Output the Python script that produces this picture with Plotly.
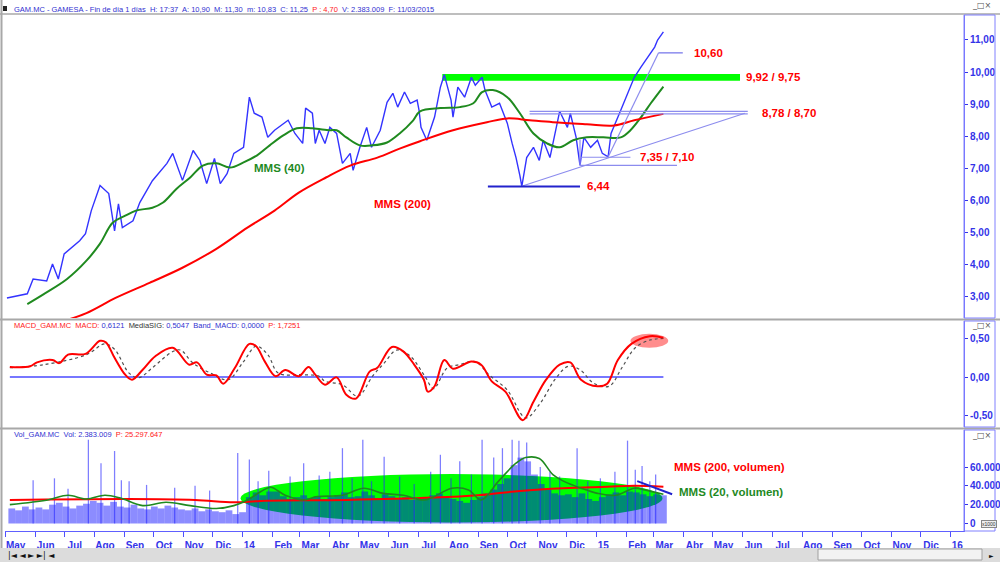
import pandas as pd
import plotly.graph_objects as go

# ---------------- PRICE PANEL DATA ----------------
price_dates = [
    '2013-05-03', '2013-05-24', '2013-05-30', '2013-06-13', '2013-06-19', '2013-06-25', '2013-07-01',
    '2013-07-17', '2013-07-23', '2013-07-29', '2013-08-07', '2013-08-16', '2013-08-22', '2013-08-26',
    '2013-08-30', '2013-09-10', '2013-09-17', '2013-09-30', '2013-10-15', '2013-10-21', '2013-10-31',
    '2013-11-11', '2013-11-18', '2013-11-25', '2013-12-03', '2013-12-09', '2013-12-16', '2013-12-23',
    '2014-01-02', '2014-01-08', '2014-01-13', '2014-01-21', '2014-01-27', '2014-02-03', '2014-02-17',
    '2014-02-24', '2014-03-04', '2014-03-07', '2014-03-14', '2014-03-17', '2014-03-21', '2014-03-27',
    '2014-04-01', '2014-04-08', '2014-04-14', '2014-04-22', '2014-04-25', '2014-05-02', '2014-05-09',
    '2014-05-14', '2014-05-23', '2014-05-30', '2014-06-05', '2014-06-10', '2014-06-17', '2014-06-23',
    '2014-06-30', '2014-07-02', '2014-07-04', '2014-07-10', '2014-07-18', '2014-07-24', '2014-07-28',
    '2014-08-04', '2014-08-06', '2014-08-11', '2014-08-18', '2014-08-25', '2014-08-29', '2014-09-05',
    '2014-09-08', '2014-09-15', '2014-09-23', '2014-10-01', '2014-10-06', '2014-10-10', '2014-10-14',
    '2014-10-16', '2014-10-21', '2014-10-28', '2014-11-03', '2014-11-07', '2014-11-14', '2014-11-21',
    '2014-11-24', '2014-12-02', '2014-12-05', '2014-12-11', '2014-12-15', '2014-12-19', '2014-12-26',
    '2015-01-02', '2015-01-07', '2015-01-13', '2015-01-16', '2015-01-26', '2015-02-02', '2015-02-09',
    '2015-02-16', '2015-02-23', '2015-03-02', '2015-03-05', '2015-03-11']
price_close = [
    2.97, 3.10, 3.56, 3.50, 4.03, 3.56, 4.34, 4.75, 4.97, 5.69, 6.47, 6.22, 5.06, 5.90,
    5.16, 5.37, 5.94, 6.62, 7.16, 7.47, 6.63, 7.56, 7.25, 6.53, 7.31, 6.53, 6.84, 7.47,
    7.66, 9.22, 8.72, 8.60, 7.97, 8.19, 8.50, 8.09, 7.78, 8.88, 8.72, 7.78, 8.19, 7.78,
    8.28, 8.09, 7.16, 7.47, 6.94, 7.66, 8.28, 7.66, 8.19, 9.06, 9.34, 8.91, 9.38, 9.03,
    9.13, 8.81, 8.28, 7.88, 8.60, 9.53, 9.92, 9.13, 8.60, 9.53, 9.22, 9.84, 9.59, 9.84,
    9.44, 8.91, 9.03, 8.41, 7.78, 7.34, 6.78, 6.44, 7.34, 7.66, 7.25, 7.88, 7.34, 8.28,
    8.78, 8.28, 8.72, 7.97, 7.10, 7.97, 7.66,
    7.88, 7.47, 7.36, 8.09, 8.81, 9.34, 9.84, 10.16, 10.47, 10.78, 11.00, 11.25]

mms40_dates = [
    '2013-05-24', '2013-06-10', '2013-07-04', '2013-07-24', '2013-08-07', '2013-08-20', '2013-09-02',
    '2013-09-13', '2013-09-30', '2013-10-11', '2013-10-25', '2013-11-08', '2013-11-21', '2013-12-05',
    '2013-12-19', '2014-01-02', '2014-01-16', '2014-01-29', '2014-02-12', '2014-02-26', '2014-03-14',
    '2014-04-01', '2014-04-08', '2014-04-18', '2014-05-02', '2014-05-15', '2014-05-30', '2014-06-12',
    '2014-06-26', '2014-07-03', '2014-07-24', '2014-08-13', '2014-08-27', '2014-09-05', '2014-09-16',
    '2014-10-01', '2014-10-14', '2014-10-28', '2014-11-11', '2014-11-24', '2014-12-08', '2014-12-22',
    '2015-01-08', '2015-01-26', '2015-02-05', '2015-02-16', '2015-02-26', '2015-03-11']
mms40 = [
    2.78, 3.09, 3.56, 4.13, 4.66, 5.31, 5.53, 5.69, 5.78, 5.94, 6.37, 6.72, 7.09, 7.16, 7.03,
    7.19, 7.41, 7.72, 8.03, 8.25, 8.25, 8.19, 8.19, 7.97, 7.72, 7.72, 7.81, 8.09, 8.50, 8.78,
    8.88, 8.91, 9.03, 9.38, 9.44, 9.22, 8.72, 8.09, 7.78, 7.66, 7.88, 7.97,
    7.97, 7.97, 8.19, 8.60, 9.03, 9.55]

mms200_dates = [
    '2013-06-27', '2013-07-24', '2013-08-23', '2013-09-27', '2013-10-31', '2013-12-05', '2014-01-06',
    '2014-02-03', '2014-02-28', '2014-03-28', '2014-04-22', '2014-05-20', '2014-06-12', '2014-07-03',
    '2014-08-06', '2014-09-10', '2014-10-01', '2014-10-24', '2014-11-17', '2014-12-22', '2015-01-19',
    '2015-02-09', '2015-03-11']
mms200 = [2.22, 2.50, 2.97, 3.44, 3.91, 4.50, 5.16, 5.69, 6.25, 6.72, 7.09, 7.34, 7.62, 7.85,
          8.19, 8.44, 8.56, 8.50, 8.44, 8.38, 8.34, 8.50, 8.70]

# key levels written on the chart
level_1060 = 10.60
band_top, band_bottom = 9.92, 9.75
res_top, res_bottom = 8.78, 8.70
sup_top, sup_bottom = 7.35, 7.10
low_644 = 6.44

# ---------------- MACD PANEL DATA ----------------
macd_dates = [
    '2013-05-06', '2013-05-27', '2013-06-03', '2013-06-19', '2013-06-26', '2013-07-05', '2013-07-23',
    '2013-08-07', '2013-08-13', '2013-08-22', '2013-09-02', '2013-09-09', '2013-09-20', '2013-10-03',
    '2013-10-21', '2013-11-07', '2013-11-15', '2013-11-25', '2013-12-05', '2013-12-12', '2013-12-24',
    '2014-01-08', '2014-01-15', '2014-01-24', '2014-02-04', '2014-02-14', '2014-02-28', '2014-03-10',
    '2014-03-17', '2014-03-27', '2014-04-08', '2014-04-18', '2014-04-28', '2014-05-12', '2014-05-20',
    '2014-06-04', '2014-06-16', '2014-06-27', '2014-07-07', '2014-07-11', '2014-07-18', '2014-07-28',
    '2014-08-06', '2014-08-25', '2014-09-04', '2014-09-15', '2014-09-29', '2014-10-17', '2014-10-28',
    '2014-11-10', '2014-11-24', '2014-12-05', '2014-12-16', '2015-01-02', '2015-01-12', '2015-01-23',
    '2015-02-06', '2015-02-25', '2015-03-11']
macd_vals = [
    0.13, 0.14, 0.19, 0.22, 0.18, 0.29, 0.30, 0.47, 0.45, 0.25,
    0.03, -0.035, 0.095, 0.27, 0.38, 0.16, 0.19, 0.03, 0.02, -0.087, 0.117,
    0.43, 0.40, 0.20, 0.01, 0.09, 0.01, 0.13, 0.03, -0.10, -0.005,
    -0.23, -0.28, 0.07, 0.12, 0.39, 0.33, 0.16, -0.035, -0.19, -0.12,
    0.22, 0.108, 0.20, 0.16, -0.056, -0.19, -0.56, -0.32, -0.035, 0.16,
    0.19, -0.035, -0.12, -0.087, 0.22, 0.43, 0.53, 0.51]
sig_dates = [
    '2013-05-06', '2013-06-10', '2013-07-24', '2013-08-12', '2013-08-22', '2013-09-06', '2013-09-16',
    '2013-09-30', '2013-10-21', '2013-10-29', '2013-11-11', '2013-11-29', '2013-12-17', '2014-01-02',
    '2014-01-15', '2014-01-27', '2014-02-07', '2014-03-05', '2014-03-21', '2014-03-27', '2014-04-14',
    '2014-04-30', '2014-05-15', '2014-05-27', '2014-06-09', '2014-06-23', '2014-07-08', '2014-07-17',
    '2014-07-31', '2014-08-13', '2014-08-29', '2014-09-12', '2014-10-01', '2014-10-20', '2014-11-04',
    '2014-11-19', '2014-12-03', '2014-12-15', '2014-12-29', '2015-01-14', '2015-01-27', '2015-02-10',
    '2015-02-25', '2015-03-11']
sig_vals = [
    0.12, 0.16, 0.29, 0.43, 0.36, 0.05, -0.01, 0.12, 0.33, 0.35, 0.18, 0.05, -0.035,
    0.20, 0.40, 0.29, 0.05, 0.03, 0.01, -0.056, -0.10, -0.25, 0.01,
    0.18, 0.35, 0.27, 0.01, -0.15, 0.117, 0.16, 0.20, 0.03, -0.17,
    -0.53, -0.34, -0.035, 0.14, 0.095, -0.08,
    -0.12, 0.117, 0.38, 0.48, 0.50]
band_macd = 0.0

# ---------------- VOLUME PANEL DATA (thousands) ----------------
vol_first_week = '2013-05-08'
vol_weekly = [
    16, 14, 18, 15, 17, 15, 20, 22, 18, 16, 19, 21, 24, 22, 19, 23, 18,
    17, 20, 16, 15, 18, 16, 19, 17, 15, 14, 16, 13, 15, 13, 12, 14, 10, 12,
    28, 33, 30, 34, 34, 29, 26, 28, 30, 27, 29, 26, 28, 30, 33, 28, 29,
    34, 30, 27, 31, 29, 26, 28, 25, 26, 28, 30, 32, 29, 26, 24, 22, 25,
    28, 32, 36, 42, 48, 62, 70, 66, 52, 42, 36, 32, 30, 31, 28, 32, 26, 24,
    28, 31, 33, 30, 34, 33, 31, 29, 31, 30]
vol_spike_dates = [
    '2013-05-30', '2013-06-21', '2013-07-05', '2013-07-26', '2013-08-08', '2013-08-22', '2013-08-29',
    '2013-09-06', '2013-09-24', '2013-10-23', '2013-11-13', '2013-11-28', '2013-12-27', '2014-01-08',
    '2014-01-17', '2014-01-28', '2014-02-19', '2014-03-05', '2014-03-21', '2014-04-01', '2014-04-14',
    '2014-04-24', '2014-05-05', '2014-05-14', '2014-05-27', '2014-06-12', '2014-06-27', '2014-07-14',
    '2014-07-24', '2014-08-04', '2014-08-13', '2014-08-25', '2014-09-05', '2014-09-17', '2014-09-26',
    '2014-10-06', '2014-10-13', '2014-10-21', '2014-11-04', '2014-11-14', '2014-11-24', '2014-12-12',
    '2014-12-23', '2015-01-05', '2015-01-20', '2015-02-02', '2015-02-10', '2015-02-17', '2015-02-25',
    '2015-03-03']
vol_spike_vals = [
    46, 48, 37, 89, 64, 77, 46, 45, 41, 38, 40, 35, 75, 68,
    45, 56, 50, 64, 51, 55, 80, 48, 89, 45, 71, 50, 42, 55,
    73, 48, 66, 52, 89, 70, 80, 89, 88, 86, 60, 55, 50, 80,
    45, 48, 55, 88, 57, 61, 45, 52]

vma200_dates = ['2013-05-06', '2013-09-06', '2013-11-13', '2013-12-23', '2014-01-20', '2014-04-18',
                '2014-07-17', '2014-09-01', '2014-10-14', '2014-11-28', '2015-01-12', '2015-02-09',
                '2015-03-11']
vma200 = [25, 26, 25, 22.5, 24, 25, 27.5, 30, 34.6, 37.5, 39, 40, 39]

vma20_dates = [
    '2013-05-06', '2013-06-14', '2013-07-05', '2013-07-24', '2013-08-12', '2013-08-28', '2013-09-20',
    '2013-10-14', '2013-11-08', '2013-12-05', '2013-12-23', '2014-01-06', '2014-01-20', '2014-01-30',
    '2014-02-14', '2014-03-05', '2014-03-19', '2014-04-14', '2014-05-06', '2014-05-26', '2014-06-16',
    '2014-07-08', '2014-08-05', '2014-08-22', '2014-09-04', '2014-09-22', '2014-10-10', '2014-10-20',
    '2014-11-03', '2014-11-17', '2014-11-28', '2014-12-16', '2015-01-02', '2015-01-21', '2015-02-09',
    '2015-02-20', '2015-03-11']
vma20 = [20, 25, 30, 26, 30, 27, 19, 22.5, 19, 16, 19, 25, 34, 38.5, 30, 25, 28.6, 30, 37.5,
         32, 30, 25, 37.5, 35.7, 25, 45, 64, 70, 69, 52, 45, 37.5, 32, 30, 37.5, 35.7, 31]

# ---------------- AXIS TICKS ----------------
month_labels = ['May', 'Jun', 'Jul', 'Ago', 'Sep', 'Oct', 'Nov', 'Dic', '14', 'Feb', 'Mar', 'Abr',
                'May', 'Jun', 'Jul', 'Ago', 'Sep', 'Oct', 'Nov', 'Dic', '15', 'Feb', 'Mar', 'Abr',
                'May', 'Jun', 'Jul', 'Ago', 'Sep', 'Oct', 'Nov', 'Dic', '16']
price_ticks = [3, 4, 5, 6, 7, 8, 9, 10, 11]
macd_ticks = [-0.5, 0.0, 0.5]
vol_ticks = [0, 20, 40, 60]

# ---------------- STYLE ----------------
W, H = 1000, 562
FONT = 'Liberation Sans, Arial, sans-serif'
AX_BLUE = '#3434e8'
PRICE_BLUE = '#3333ff'
RED = '#ff0000'
GREEN = '#1f8a1f'


def PX(x):
    return x / W


def PY(y):
    return 1 - y / H


X_L, X_R = 5, 964
PRICE_T, PRICE_B = 15, 318
MACD_T, MACD_B = 321, 427
VOL_T, VOL_B = 430, 531

fig = go.Figure()

# price panel
fig.add_trace(go.Scatter(x=price_dates, y=price_close, mode='lines',
                         line=dict(color=PRICE_BLUE, width=1.4), xaxis='x', yaxis='y'))
fig.add_trace(go.Scatter(x=mms40_dates, y=mms40, mode='lines', line_shape='spline',
                         line=dict(color=GREEN, width=2), xaxis='x', yaxis='y'))
fig.add_trace(go.Scatter(x=mms200_dates, y=mms200, mode='lines', line_shape='spline',
                         line=dict(color=RED, width=2), xaxis='x', yaxis='y'))

# MACD panel
fig.add_trace(go.Scatter(x=[macd_dates[0], macd_dates[-1]], y=[band_macd, band_macd], mode='lines',
                         line=dict(color='#4a4aff', width=1.5), xaxis='x', yaxis='y2'))
fig.add_trace(go.Scatter(x=sig_dates, y=sig_vals, mode='lines', line_shape='spline',
                         line=dict(color='#505050', width=1.2, dash='dot'), xaxis='x', yaxis='y2'))
fig.add_trace(go.Scatter(x=macd_dates, y=macd_vals, mode='lines', line_shape='spline',
                         line=dict(color=RED, width=2), xaxis='x', yaxis='y2'))

# volume panel
week_dates = pd.date_range(vol_first_week, periods=len(vol_weekly), freq='7D')
DAY_MS = 86400000
fig.add_trace(go.Bar(x=week_dates, y=vol_weekly, width=7 * DAY_MS,
                     marker=dict(color='rgba(0,0,255,0.45)', line=dict(width=0)),
                     xaxis='x', yaxis='y3'))
fig.add_trace(go.Bar(x=vol_spike_dates, y=vol_spike_vals, width=1.3 * DAY_MS,
                     marker=dict(color='rgba(40,40,255,0.6)', line=dict(width=0)),
                     xaxis='x', yaxis='y3'))
fig.add_trace(go.Scatter(x=vma200_dates, y=vma200, mode='lines', line_shape='spline',
                         line=dict(color=RED, width=2), xaxis='x', yaxis='y3'))
fig.add_trace(go.Scatter(x=vma20_dates, y=vma20, mode='lines', line_shape='spline',
                         line=dict(color=GREEN, width=1.6), xaxis='x', yaxis='y3'))

# ---------------- AXES ----------------
month_dates = pd.date_range('2013-05-01', periods=len(month_labels), freq='MS')
label_pos = [d + pd.Timedelta(days=(11 if len(t) == 3 else 7)) for d, t in zip(month_dates, month_labels)]

tickfont = dict(family=FONT, size=10, color=AX_BLUE, weight='bold')


def yax(domain, rng, vals, texts):
    return dict(domain=domain, range=rng, side='right', anchor='x', showgrid=False, zeroline=False,
                showline=True, linecolor='#7070ff', linewidth=1, ticks='outside', ticklen=3,
                tickcolor=AX_BLUE, tickmode='array', tickvals=vals, ticktext=texts, tickfont=tickfont,
                fixedrange=True)


price_text = [f'{v:.2f}'.replace('.', ',') for v in price_ticks]
macd_text = [f'{v:.2f}'.replace('.', ',') for v in macd_ticks]
vol_text = [f'{int(v * 1000):,}'.replace(',', '.') for v in vol_ticks]

layout = dict(
    width=W, height=H, margin=dict(l=0, r=0, t=0, b=0), autosize=False,
    paper_bgcolor='white', plot_bgcolor='white', showlegend=False, barmode='overlay',
    font=dict(family=FONT),
    xaxis=dict(domain=[PX(X_L), PX(X_R)], range=['2013-05-01', '2016-01-15'], type='date',
               anchor='y3', showgrid=False, zeroline=False, showline=True, linecolor='#6060ff',
               linewidth=1, tickmode='array', tickvals=label_pos, ticktext=month_labels,
               ticks='outside', ticklen=5, tickcolor='rgba(0,0,0,0)', tickfont=tickfont,
               minor=dict(tickmode='array', tickvals=list(month_dates), ticks='outside', ticklen=5,
                          tickcolor='#5050ff', showgrid=False)),
    yaxis=yax([PY(PRICE_B), PY(PRICE_T)], [2.346, 11.778], price_ticks, price_text),
    yaxis2=yax([PY(MACD_B), PY(MACD_T)], [-0.649, 0.727], macd_ticks, macd_text),
    yaxis3=yax([PY(VOL_B), PY(VOL_T)], [-7.96, 99.3], vol_ticks, vol_text),
)
fig.update_layout(**layout)

# ---------------- SHAPES ----------------
shapes = []
LAV = '#8c8cee'
# price-panel studies
shapes.append(dict(type='rect', xref='x', yref='y', x0='2014-07-26', x1='2015-05-29',
                   y0=band_bottom - 0.02, y1=band_top + 0.02, fillcolor='#00ff00', line=dict(width=0),
                   layer='below'))
shapes.append(dict(type='line', xref='x', yref='y', x0='2015-03-06', x1='2015-03-31',
                   y0=level_1060, y1=level_1060, line=dict(color=LAV, width=1.5)))
for lv in (res_top, res_bottom):
    shapes.append(dict(type='line', xref='x', yref='y', x0='2014-10-24', x1='2015-06-06',
                       y0=lv, y1=lv, line=dict(color=LAV, width=1.2)))
shapes.append(dict(type='line', xref='x', yref='y', x0='2014-10-15', x1='2015-06-03',
                   y0=low_644, y1=8.72, line=dict(color=LAV, width=1.2)))
shapes.append(dict(type='line', xref='x', yref='y', x0='2014-09-11', x1='2014-12-15',
                   y0=low_644, y1=low_644, line=dict(color='#2222cc', width=2)))
shapes.append(dict(type='line', xref='x', yref='y', x0='2014-12-15', x1='2015-02-05',
                   y0=sup_top, y1=sup_top, line=dict(color=LAV, width=1.2)))
shapes.append(dict(type='line', xref='x', yref='y', x0='2014-12-15', x1='2015-03-25',
                   y0=sup_bottom, y1=sup_bottom, line=dict(color=LAV, width=1.2)))
shapes.append(dict(type='line', xref='x', yref='y', x0='2014-12-15', x1='2014-12-15',
                   y0=sup_bottom, y1=7.9, line=dict(color=LAV, width=1.2)))
shapes.append(dict(type='line', xref='x', yref='y', x0='2015-01-13', x1='2015-03-06',
                   y0=7.36, y1=level_1060, line=dict(color=LAV, width=1.2)))
# MACD highlight
shapes.append(dict(type='circle', xref='x', yref='y2', x0='2015-02-05', x1='2015-03-16',
                   y0=0.38, y1=0.56, fillcolor='rgba(255,80,80,0.65)', line=dict(width=0),
                   layer='below'))
# volume highlight ellipse and arrow
shapes.append(dict(type='circle', xref='x', yref='y3', x0='2013-12-30', x1='2015-03-10',
                   y0=1, y1=52.5, fillcolor='#00ff00', line=dict(width=0), layer='below'))
shapes.append(dict(type='line', xref='x', yref='y3', x0='2015-02-12', x1='2015-03-20',
                   y0=45, y1=31, line=dict(color='#2020cc', width=2)))

# window frame
GRAY = '#a8a8a8'
shapes.append(dict(type='line', xref='paper', yref='paper', x0=0, x1=1, y0=PY(14), y1=PY(14),
                   line=dict(color=GRAY, width=1.5)))
for y0, y1 in ((318.5, 320.5), (427.5, 429.5)):
    shapes.append(dict(type='rect', xref='paper', yref='paper', x0=0, x1=1, y0=PY(y1), y1=PY(y0),
                       fillcolor=GRAY, line=dict(width=0)))
shapes.append(dict(type='line', xref='paper', yref='paper', x0=PX(1.5), x1=PX(1.5), y0=PY(548),
                   y1=PY(0), line=dict(color=GRAY, width=2)))
for t, b in ((PRICE_T, PRICE_B), (MACD_T, MACD_B), (VOL_T, VOL_B)):
    shapes.append(dict(type='rect', xref='paper', yref='paper', x0=PX(X_R), x1=PX(995),
                       y0=PY(b), y1=PY(t), line=dict(color='#8080ff', width=1)))
shapes.append(dict(type='rect', xref='paper', yref='paper', x0=0, x1=1, y0=0, y1=PY(548),
                   fillcolor='#dcdcdc', line=dict(width=0)))
shapes.append(dict(type='rect', xref='paper', yref='paper', x0=PX(818), x1=PX(982), y0=PY(560),
                   y1=PY(549), fillcolor='#f2f2f2', line=dict(color='#a0a0a0', width=1)))
shapes.append(dict(type='rect', xref='paper', yref='paper', x0=PX(3), x1=PX(7), y0=PY(11),
                   y1=PY(6), fillcolor='#222222', line=dict(width=0)))
fig.update_layout(shapes=shapes)

# ---------------- ANNOTATIONS ----------------
ann = []


def label(x, y, text, color, yref='y', size=11.5):
    ann.append(dict(x=x, y=y, xref='x', yref=yref, text=text, showarrow=False, xanchor='left',
                    yanchor='middle', font=dict(family=FONT, size=size, color=color, weight='bold')))


label('2014-01-11', 7.03, 'MMS (40)', GREEN)
label('2014-05-14', 5.88, 'MMS (200)', RED)
label('2015-04-09', level_1060, '10,60', RED)
label('2015-06-02', (band_top + band_bottom) / 2, '9,92 / 9,75', RED)
label('2015-06-19', (res_top + res_bottom) / 2, '8,78 / 8,70', RED)
label('2015-02-13', sup_top, '7,35 / 7,10', RED)
label('2014-12-20', low_644, '6,44', RED)
label('2015-03-20', 60, 'MMS (200, volumen)', RED, yref='y3')
label('2015-03-25', 33, 'MMS (20, volumen)', GREEN, yref='y3')


def header(x, y, text, size=7.5):
    ann.append(dict(x=PX(x), y=PY(y), xref='paper', yref='paper', text=text, showarrow=False,
                    xanchor='left', yanchor='middle', font=dict(family=FONT, size=size, color='#3030d0')))


B = '#3030d0'
header(12, 9, 'GAM.MC - GAMESA - Fin de día 1 días  H: 17:37  A: 10,90  M: 11,30  m: 10,83  C: 11,25  '
       '<span style="color:#ff2020">P : 4,70</span>  V: 2.383.009  F: 11/03/2015')
header(12, 325.5, '<span style="color:#ff2020">MACD_GAM.MC  MACD:</span> 0,6121  '
       '<span style="color:#333333">MediaSIG:</span> 0,5047  Band_MACD: 0,0000  '
       '<span style="color:#ff2020">P: 1,7251</span>')
header(12, 434.5, 'Vol_GAM.MC  Vol: 2.383.009  <span style="color:#ff2020">P: 25.297.647</span>')

for yy in (6, 325, 435):
    ann.append(dict(x=PX(993), y=PY(yy), xref='paper', yref='paper', text='_□×', showarrow=False,
                    xanchor='right', yanchor='middle', font=dict(family='DejaVu Sans', size=8, color='#555555')))
ann.append(dict(x=PX(6), y=PY(555), xref='paper', yref='paper', text='|◄ ◄ ► ►| ◄', showarrow=False,
                xanchor='left', yanchor='middle', font=dict(family='DejaVu Sans', size=8, color='#111111')))
ann.append(dict(x=PX(996), y=PY(555), xref='paper', yref='paper', text='►', showarrow=False,
                xanchor='right', yanchor='middle', font=dict(family='DejaVu Sans', size=6, color='#111111')))
ann.append(dict(x=PX(997), y=PY(524), xref='paper', yref='paper', text='x1000', showarrow=False,
                xanchor='right', yanchor='middle', bgcolor='#eeeeee', bordercolor='#888888', borderwidth=1,
                borderpad=0, font=dict(family=FONT, size=5, color='#333333')))
fig.update_layout(annotations=ann)

fig.write_html('out.html')
